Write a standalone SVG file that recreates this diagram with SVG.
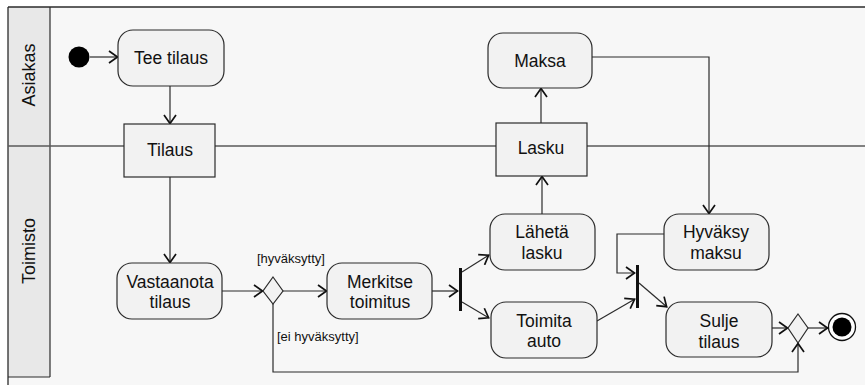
<svg xmlns="http://www.w3.org/2000/svg" width="865" height="385" viewBox="0 0 865 385">
  <style>
    .node { fill: #f2f2f2; stroke: #2b2b2b; stroke-width: 1.2; }
    .txt { font-family: "Liberation Sans", Arial, sans-serif; font-size: 17.5px; fill: #111; text-anchor: middle; }
    .guard { font-family: "Liberation Sans", Arial, sans-serif; font-size: 13px; fill: #111; }
    .lane { font-family: "Liberation Sans", Arial, sans-serif; font-size: 18px; fill: #111; text-anchor: middle; }
    .edge { fill: none; stroke: #2b2b2b; stroke-width: 1.2; marker-end: url(#arr); }
    .plain { fill: none; stroke: #2b2b2b; stroke-width: 1.2; }
    .bar { fill: #111; }
  </style>
  <defs>
    <marker id="arr" markerUnits="userSpaceOnUse" viewBox="0 0 12 14" markerWidth="12" markerHeight="14" refX="10.5" refY="7" orient="auto">
      <path d="M1.5,1 L10,7 L1.5,13" fill="none" stroke="#111" stroke-width="1.7"/>
    </marker>
  </defs>

  <!-- swimlanes -->
  <g id="lanes">
    <rect x="0" y="0" width="865" height="385" fill="#ffffff"/>
    <rect x="8" y="7" width="857" height="378" fill="#f7f7f7"/>
    <rect x="8" y="7" width="42" height="370" fill="#e8e8e8"/>
    <line x1="8" y1="7" x2="865" y2="7" stroke="#2b2b2b" stroke-width="1.3"/>
    <line x1="8" y1="7" x2="8" y2="385" stroke="#2b2b2b" stroke-width="1.3"/>
    <line x1="50" y1="7" x2="50" y2="377" stroke="#2b2b2b" stroke-width="1.2"/>
    <line x1="8" y1="377" x2="50" y2="377" stroke="#2b2b2b" stroke-width="1.2"/>
    <line x1="8" y1="146" x2="865" y2="146" stroke="#5a5a5a" stroke-width="1.6"/>
    <text class="lane" transform="translate(35,75) rotate(-90)">Asiakas</text>
    <text class="lane" transform="translate(35,251) rotate(-90)">Toimisto</text>
  </g>

  <!-- connectors -->
  <g id="connectors">
    <path class="edge" d="M90,57 H118"/>
    <path class="edge" d="M170,86 V124"/>
    <path class="edge" d="M170,177 V263"/>
    <path class="edge" d="M222,291 H263"/>
    <path class="edge" d="M283,291 H327"/>
    <path class="edge" d="M432,291 H458"/>
    <path class="edge" d="M462,272 L489,255"/>
    <path class="edge" d="M462,302 L489,318"/>
    <path class="edge" d="M542,214 V176"/>
    <path class="edge" d="M541,123 V88"/>
    <path class="edge" d="M592,57 H709 V214"/>
    <path class="edge" d="M664,234 H617 V273 H635"/>
    <path class="edge" d="M597,321 L635,299"/>
    <path class="edge" d="M639,283 L667,307"/>
    <path class="edge" d="M772,328 H788"/>
    <path class="edge" d="M808,328 H828"/>
    <path class="edge" d="M273,304 V372 H798 V343"/>
    <text class="guard" x="257" y="263">[hyväksytty]</text>
    <text class="guard" x="277" y="341">[ei hyväksytty]</text>
  </g>

  <!-- nodes -->
  <g id="start"><circle cx="79" cy="57" r="10.5" fill="#000"/></g>
  <g id="tee-tilaus">
    <rect class="node" x="118" y="30" width="106" height="56" rx="15"/>
    <text class="txt" x="171" y="64">Tee tilaus</text>
  </g>
  <g id="tilaus">
    <rect class="node" x="124" y="124" width="91" height="53"/>
    <text class="txt" x="170" y="156">Tilaus</text>
  </g>
  <g id="vastaanota-tilaus">
    <rect class="node" x="117" y="263" width="105" height="56" rx="15"/>
    <text class="txt" x="170" y="288">Vastaanota</text>
    <text class="txt" x="170" y="308">tilaus</text>
  </g>
  <g id="decision-1">
    <polygon class="node" points="273,277 283,291 273,304 263,291"/>
  </g>
  <g id="merkitse-toimitus">
    <rect class="node" x="327" y="263" width="105" height="56" rx="15"/>
    <text class="txt" x="380" y="288">Merkitse</text>
    <text class="txt" x="380" y="308">toimitus</text>
  </g>
  <g id="fork"><rect class="bar" x="459" y="268" width="3" height="43"/></g>
  <g id="laheta-lasku">
    <rect class="node" x="490" y="214" width="105" height="56" rx="15"/>
    <text class="txt" x="542" y="238">Lähetä</text>
    <text class="txt" x="542" y="259">lasku</text>
  </g>
  <g id="toimita-auto">
    <rect class="node" x="491" y="302" width="106" height="56" rx="15"/>
    <text class="txt" x="544" y="327">Toimita</text>
    <text class="txt" x="544" y="347">auto</text>
  </g>
  <g id="lasku">
    <rect class="node" x="496" y="123" width="91" height="53"/>
    <text class="txt" x="541" y="154">Lasku</text>
  </g>
  <g id="maksa">
    <rect class="node" x="488" y="33" width="104" height="55" rx="15"/>
    <text class="txt" x="540" y="67">Maksa</text>
  </g>
  <g id="hyvaksy-maksu">
    <rect class="node" x="664" y="214" width="105" height="56" rx="15"/>
    <text class="txt" x="716" y="238">Hyväksy</text>
    <text class="txt" x="716" y="259">maksu</text>
  </g>
  <g id="join"><rect class="bar" x="636" y="265" width="3" height="43"/></g>
  <g id="sulje-tilaus">
    <rect class="node" x="666" y="302" width="106" height="55" rx="15"/>
    <text class="txt" x="719" y="327">Sulje</text>
    <text class="txt" x="719" y="348">tilaus</text>
  </g>
  <g id="decision-2">
    <polygon class="node" points="798,314 808,328 798,343 788,328"/>
  </g>
  <g id="end">
    <circle cx="842" cy="327" r="13.5" fill="#fff" stroke="#111" stroke-width="1.3"/>
    <circle cx="842" cy="327" r="9.5" fill="#000"/>
  </g>
</svg>
